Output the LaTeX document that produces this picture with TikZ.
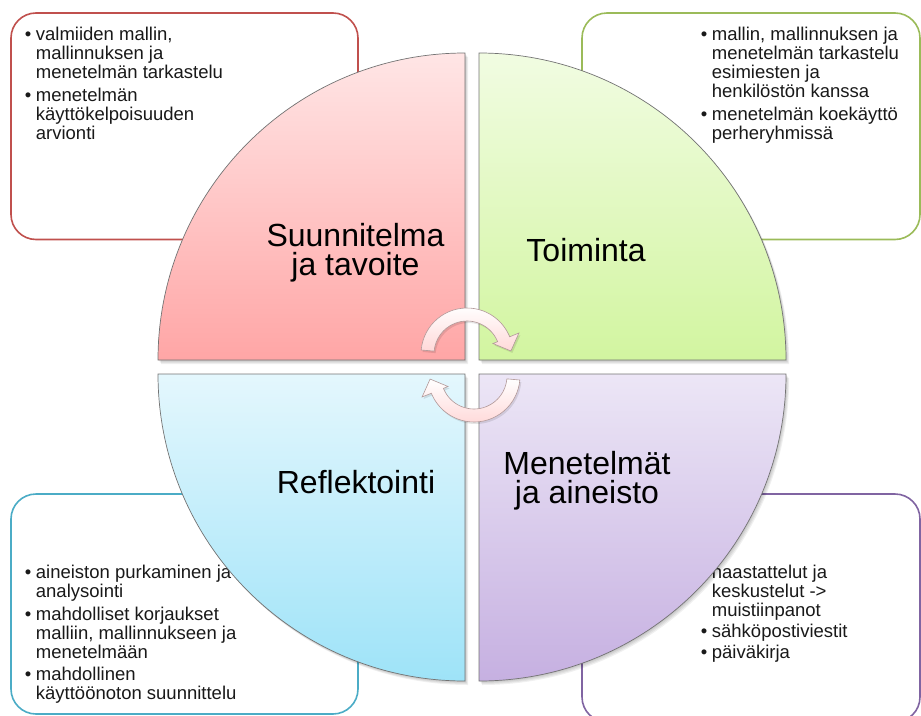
\documentclass[tikz,border=0pt]{standalone}
\usepackage{fontspec}
\setmainfont{Liberation Sans}
% one bullet line, one continuation line, and a two-line centred title
\newcommand\itm[1]{\hbox{\llap{\textbullet\hskip4.5pt}#1}}
\newcommand\cnt[1]{\hbox{#1}}
\newcommand\twolines[2]{\vtop{\baselineskip=29.5pt\lineskiplimit=-20pt
  \hbox to 0pt{\hss#1\hss}\hbox to 0pt{\hss#2\hss}}}
\newcommand\notelist[1]{\vtop{\baselineskip=19pt\lineskiplimit=-20pt #1}}
\definecolor{boxred}{HTML}{C0504D}
\definecolor{boxgreen}{HTML}{9BBB59}
\definecolor{boxblue}{HTML}{4BACC6}
\definecolor{boxpurple}{HTML}{8064A2}
\begin{document}
\begin{tikzpicture}[x=1pt,y=-1pt,
  box/.style={rounded corners=25pt, line width=1.6pt, fill=white},
  note/.style={anchor=base west, inner sep=0pt, font=\fontsize{18.5}{19}\selectfont, text=black!90},
  title/.style={anchor=base, inner sep=0pt, font=\fontsize{32}{29}\selectfont, text=black},
  quad/.style={draw=black!55, line width=0.7pt},
  shade/.style={fill=black, opacity=0.06},
  cyc/.style={draw=red!25!black!40, line width=0.6pt, top color=white, bottom color=red!15}
]
\useasboundingbox (0,0) rectangle (921,715);

% corner boxes
\draw[box, draw=boxred]    (11,13)  rectangle (358,239.5);
\draw[box, draw=boxgreen]  (582,13) rectangle (920,239.5);
\draw[box, draw=boxblue]   (11,494) rectangle (358,714);
\draw[box, draw=boxpurple] (582,494) rectangle (920,722);

% bullet lists
\node[note] (plan) at (35.7,40.7) {\notelist{%
  \itm{valmiiden mallin,}\cnt{mallinnuksen ja}\cnt{menetelmän tarkastelu}\vskip4pt
  \itm{menetelmän}\cnt{käyttökelpoisuuden}\cnt{arvionti}}};
\node[note] (act) at (711.7,40.7) {\notelist{%
  \itm{mallin, mallinnuksen ja}\cnt{menetelmän tarkastelu}\cnt{esimiesten ja}\cnt{henkilöstön kanssa}\vskip3.5pt
  \itm{menetelmän koekäyttö}\cnt{perheryhmissä}}};
\node[note] (refl) at (35.7,578.7) {\notelist{%
  \itm{aineiston purkaminen ja}\cnt{analysointi}\vskip3.5pt
  \itm{mahdolliset korjaukset}\cnt{malliin, mallinnukseen ja}\cnt{menetelmään}\vskip3.5pt
  \itm{mahdollinen}\cnt{käyttöönoton suunnittelu}}};
\node[note] (meth) at (711.7,578.3) {\notelist{%
  \itm{haastattelut ja}\cnt{keskustelut ->}\cnt{muistiinpanot}\vskip2.5pt
  \itm{sähköpostiviestit}\vskip1.5pt\itm{päiväkirja}}};

% soft shadow under the quarter discs
\foreach \d in {1,2,3,4} {
  \fill[shade, shift={(\d*0.8,\d)}] (465,360) -- (158,360) arc[start angle=180, end angle=270, radius=307] -- cycle;
  \fill[shade, shift={(\d*0.8,\d)}] (479,360) -- (479,53) arc[start angle=270, end angle=360, radius=307] -- cycle;
  \fill[shade, shift={(\d*0.8,\d)}] (479,374) -- (786,374) arc[start angle=0, end angle=90, radius=307] -- cycle;
  \fill[shade, shift={(\d*0.8,\d)}] (465,374) -- (465,681) arc[start angle=90, end angle=180, radius=307] -- cycle;
}

% the four quarter discs
\draw[quad, top color=red!10, bottom color=red!35!white]
  (465,360) -- (158,360) arc[start angle=180, end angle=270, radius=307] -- cycle;
\draw[quad, top color={rgb,255:red,241;green,252;blue,226}, bottom color={rgb,255:red,210;green,245;blue,160}]
  (479,360) -- (479,53) arc[start angle=270, end angle=360, radius=307] -- cycle;
\draw[quad, top color={rgb,255:red,236;green,230;blue,246}, bottom color={rgb,255:red,198;green,176;blue,225}]
  (479,374) -- (786,374) arc[start angle=0, end angle=90, radius=307] -- cycle;
\draw[quad, top color={rgb,255:red,228;green,247;blue,253}, bottom color={rgb,255:red,158;green,227;blue,248}]
  (465,374) -- (465,681) arc[start angle=90, end angle=180, radius=307] -- cycle;

% quadrant titles
\node[title] (tplan) at (355.5,246) {\twolines{Suunnitelma}{ja tavoite}};
\node[title] (tact)  at (586,261)   {Toiminta};
\node[title] (trefl) at (356,493)   {Reflektointi};
\node[title] (tmeth) at (587,474)   {\twolines{Menetelmät}{ja aineisto}};

% circular arrows in the middle
\begin{scope}[shift={(467,354)}]
  \fill[black, opacity=0.10, shift={(1.5,2)}]
    (-175:46) arc[start angle=-175, end angle=-22, radius=46] -- (-22:56) -- (-4:44) -- (-22:28)
    -- (-22:33) arc[start angle=-22, end angle=-175, radius=33] -- cycle;
  \draw[cyc]
    (-175:46) arc[start angle=-175, end angle=-22, radius=46] -- (-22:56) -- (-4:44) -- (-22:28)
    -- (-22:33) arc[start angle=-22, end angle=-175, radius=33] -- cycle;
\end{scope}
\begin{scope}[shift={(474,376)}]
  \fill[black, opacity=0.10, shift={(1.5,2)}]
    (5:46) arc[start angle=5, end angle=158, radius=46] -- (158:56) -- (176:44) -- (158:28)
    -- (158:33) arc[start angle=158, end angle=5, radius=33] -- cycle;
  \draw[cyc]
    (5:46) arc[start angle=5, end angle=158, radius=46] -- (158:56) -- (176:44) -- (158:28)
    -- (158:33) arc[start angle=158, end angle=5, radius=33] -- cycle;
\end{scope}
\end{tikzpicture}
\end{document}
